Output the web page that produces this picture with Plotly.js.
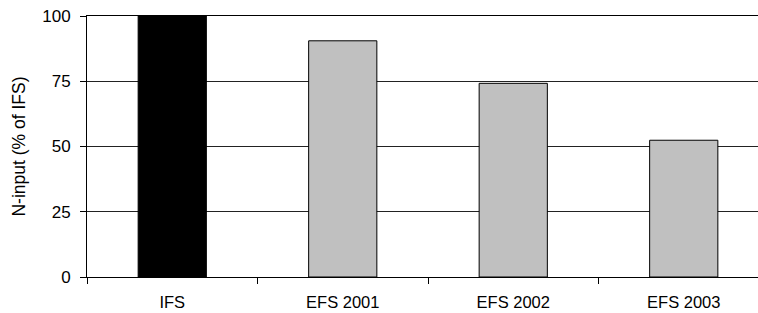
<!DOCTYPE html>
<html><head><meta charset="utf-8">
<script src="https://cdn.plot.ly/plotly-3.0.1.min.js"></script>
<style>html,body{margin:0;padding:0;overflow:hidden;width:758px;height:313px;background:#fff}</style>
</head><body><div id="chart"></div>
<script>
const categories = ["IFS", "EFS 2001", "EFS 2002", "EFS 2003"];
const values = [100, 90.5, 74.2, 52.4];
const barColors = ["#000000", "#c0c0c0", "#c0c0c0", "#c0c0c0"];
const yTicks = [0, 25, 50, 75, 100];

const font = "Liberation Sans, Arial, sans-serif";
Plotly.newPlot("chart", [{
  type: "bar",
  x: categories,
  y: values,
  width: 0.4,
  marker: {color: barColors, line: {color: "#000", width: 1}},
  hoverinfo: "skip"
}], {
  width: 772, height: 313,
  margin: {l: 87, r: 3, t: 16, b: 36},
  paper_bgcolor: "#fff", plot_bgcolor: "#fff",
  showlegend: false,
  font: {family: font, size: 17, color: "#000"},
  xaxis: {
    type: "category",
    range: [-0.5, 3.5],
    showline: true, mirror: true, linecolor: "#000", linewidth: 1,
    ticks: "outside", tickson: "boundaries", ticklen: 6, tickcolor: "#000",
    ticklabelstandoff: 10,
    showgrid: false, zeroline: false,
    tickfont: {family: font, size: 16.5, color: "#000"}
  },
  yaxis: {
    range: [0, 100],
    tickvals: yTicks,
    ticktext: yTicks.map(String),
    showline: true, linecolor: "#000", linewidth: 1,
    ticks: "outside", ticklen: 6, tickcolor: "#000",
    ticklabelstandoff: 6,
    showgrid: true, gridcolor: "#222", gridwidth: 1,
    zeroline: false,
    tickfont: {family: font, size: 17, color: "#000"},
    title: {text: "N-input (% of IFS)", font: {family: font, size: 17.5, color: "#000"}, standoff: 12}
  }
}, {staticPlot: true, displayModeBar: false});
</script></body></html>
